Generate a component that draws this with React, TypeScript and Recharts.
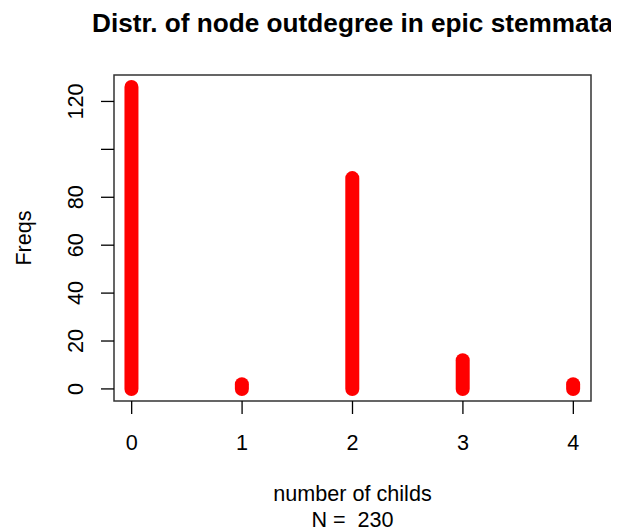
import React from 'react';
import { ComposedChart, Bar, XAxis, YAxis, ReferenceArea } from 'recharts';

const childCounts = [0, 1, 2, 3, 4];
const freqs = [126, 2, 88, 12, 2];
const xTicks = [0, 1, 2, 3, 4];
const yTicks = [0, 20, 40, 60, 80, 100, 120];
// R drops the "100" label because it would overlap its neighbours
const yTickLabels = ['0', '20', '40', '60', '80', '', '120'];

const title = 'Distr. of node outdegree in epic stemmata';
const xLabel = 'number of childs';
const nLabel = 'N =  230';
const yLabel = 'Freqs';

const data = childCounts.map((c, i) => ({ child: c, freq: freqs[i] }));

const FONT = '"Liberation Sans", Arial, Helvetica, sans-serif';
const AXIS_FS = 21.6;
const W = 607;
const H = 523;
const X_AXIS_H = 60;
const Y_AXIS_W = 60;
const plotLeft = 106;
const plotTop = 67;
const plotW = 477;
const plotH = 326;
const margin = {
    top: plotTop,
    right: W - plotLeft - plotW,
    left: plotLeft - Y_AXIS_W,
    bottom: H - plotTop - plotH - X_AXIS_H,
};
const midX = plotLeft + plotW / 2;
const midY = plotTop + plotH / 2;

const XTick = ({ x, payload }: any) => (
    <text x={x} y={plotTop + plotH + 49} textAnchor="middle" fontFamily={FONT} fontSize={AXIS_FS} fill="#000">
        {payload.value}
    </text>
);

const YTick = ({ y, payload }: any) => {
    const idx = yTicks.indexOf(payload.value);
    const px = plotLeft - 31;
    return (
        <text x={px} y={y} transform={`rotate(-90, ${px}, ${y})`} textAnchor="middle"
            fontFamily={FONT} fontSize={AXIS_FS} fill="#000">
            {yTickLabels[idx]}
        </text>
    );
};

// type="h" style spike with round ends
const Spike = ({ x, y, width, height }: any) => {
    const cx = x + width / 2;
    return <line x1={cx} x2={cx} y1={y} y2={y + height} stroke="#ff0000" strokeWidth={14} strokeLinecap="round" />;
};

export default function App() {
    return (
        <div style={{ width: W, height: H, background: '#fff' }}>
            <ComposedChart width={W} height={H} data={data} margin={margin}>
                <XAxis
                    dataKey="child"
                    type="number"
                    domain={[-0.16, 4.16]}
                    ticks={xTicks}
                    interval={0}
                    allowDataOverflow
                    axisLine={false}
                    tickSize={13}
                    tickLine={{ stroke: '#000', strokeWidth: 1.3 }}
                    tick={<XTick />}
                    height={X_AXIS_H}
                />
                <YAxis
                    type="number"
                    domain={[-5.04, 131.04]}
                    ticks={yTicks}
                    interval={0}
                    allowDataOverflow
                    axisLine={false}
                    tickSize={13}
                    tickLine={{ stroke: '#000', strokeWidth: 1.3 }}
                    tick={<YTick />}
                    width={Y_AXIS_W}
                />
                <ReferenceArea x1={-0.16} x2={4.16} y1={-5.04} y2={131.04} fill="none"
                    stroke="#333" strokeWidth={1.5} ifOverflow="visible" />
                <Bar dataKey="freq" barSize={14} shape={<Spike />} isAnimationActive={false} />
                <g fontFamily={FONT} fill="#000">
                    <text x={midX} y={24} textAnchor="middle" fontSize={26.2} fontWeight="bold">{title}</text>
                    <text x={midX} y={493} textAnchor="middle" fontSize={AXIS_FS}>{xLabel}</text>
                    <text x={midX} y={519} textAnchor="middle" fontSize={AXIS_FS} style={{ whiteSpace: 'pre' }}>{nLabel}</text>
                    <text x={23} y={midY} transform={`rotate(-90, 23, ${midY})`} textAnchor="middle" fontSize={AXIS_FS}>{yLabel}</text>
                </g>
            </ComposedChart>
        </div>
    );
}
